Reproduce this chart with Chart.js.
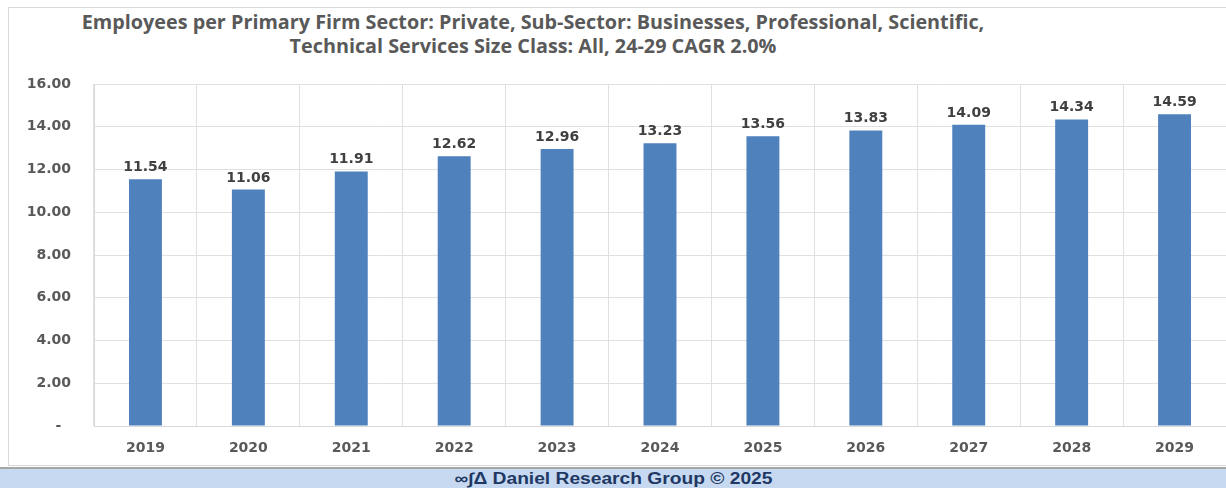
<!DOCTYPE html>
<html>
<head>
<meta charset="utf-8">
<script src="https://cdn.jsdelivr.net/npm/chart.js@4.4.1/dist/chart.umd.min.js"></script>
<style>
  html, body { margin: 0; padding: 0; background: #fff; overflow: hidden; }
  #wrap { position: relative; width: 1226px; height: 488px; }
  #frame { position: absolute; left: 8px; top: 7px; width: 1230px; height: 457px; border: 1px solid #d9d9d9; }
  #title { position: absolute; left: 0; top: 10px; width: 1066px; text-align: center;
           font-family: "Open Sans", sans-serif; font-weight: bold; font-size: 19.8px; line-height: 24px; color: #595959; }
  #chartBox { position: absolute; left: 0; top: 0; width: 1226px; height: 466px; }
  #footer { position: absolute; left: 0; top: 467px; width: 1226px; height: 19px; background: #c6d9f1;
            border-top: 2px solid #a6a6a6; text-align: center; overflow: hidden;
            font-family: "Liberation Sans", Arial, sans-serif; font-weight: bold; font-size: 16px; line-height: 20px; color: #1f3864; }
  #footer span { display: inline-block; transform: scaleX(1.2); }
</style>
</head>
<body>
<div id="wrap">
  <div id="frame"></div>
  <div id="title">Employees per Primary Firm Sector: Private, Sub-Sector: Businesses, Professional, Scientific,<br>Technical Services Size Class: All, 24-29 CAGR 2.0%</div>
  <div id="chartBox"><canvas id="Chart1" width="1226" height="466"></canvas></div>
  <div id="footer"><span>∞∫Δ Daniel Research Group © 2025</span></div>
</div>
<script>
var years = ["2019", "2020", "2021", "2022", "2023", "2024", "2025", "2026", "2027", "2028", "2029"];
var employees = [11.54, 11.06, 11.91, 12.62, 12.96, 13.23, 13.56, 13.83, 14.09, 14.34, 14.59];
var yTicks = [0, 2, 4, 6, 8, 10, 12, 14, 16];

// draw value labels above each bar
var barLabels = {
    id: 'barLabels',
    afterDatasetsDraw: function (chart) {
        var ctx = chart.ctx;
        var meta = chart.getDatasetMeta(0);
        ctx.save();
        ctx.font = 'bold 14px "DejaVu Sans"';
        ctx.fillStyle = '#404040';
        ctx.textAlign = 'center';
        ctx.textBaseline = 'alphabetic';
        meta.data.forEach(function (bar, i) {
            ctx.fillText(employees[i].toFixed(2), bar.x, bar.y - 8);
        });
        ctx.restore();
    }
};

var ctx = document.getElementById('Chart1').getContext('2d');
var myChart = new Chart(ctx, {
    type: 'bar',
    data: {
        labels: years,
        datasets: [{
            label: 'Employees',
            data: employees,
            backgroundColor: '#4f81bd',
            barPercentage: 0.32,
            categoryPercentage: 1.0
        }]
    },
    options: {
        responsive: false,
        animation: false,
        devicePixelRatio: 1,
        layout: { padding: { top: 84, left: 0, right: 0, bottom: 0 } },
        plugins: {
            legend: { display: false },
            tooltip: { enabled: false },
            title: { display: false }
        },
        scales: {
            x: {
                afterFit: function (scale) { scale.height = 40; },
                grid: { color: '#e0e0e0', drawTicks: false },
                border: { color: '#d9d9d9' },
                ticks: {
                    padding: 14,
                    color: '#595959',
                    font: { family: 'DejaVu Sans', weight: 'bold', size: 14 }
                }
            },
            y: {
                min: 0,
                max: 16,
                afterFit: function (scale) { scale.width = 94; },
                afterBuildTicks: function (scale) {
                    scale.ticks = yTicks.map(function (v) { return { value: v }; });
                },
                grid: { color: '#e0e0e0', drawTicks: false },
                border: { color: '#d9d9d9' },
                ticks: {
                    padding: 23,
                    color: '#595959',
                    font: { family: 'DejaVu Sans', weight: 'bold', size: 14 },
                    callback: function (v) { return v === 0 ? '-  ' : v.toFixed(2); }
                }
            }
        }
    },
    plugins: [barLabels]
});
</script>
</body>
</html>
